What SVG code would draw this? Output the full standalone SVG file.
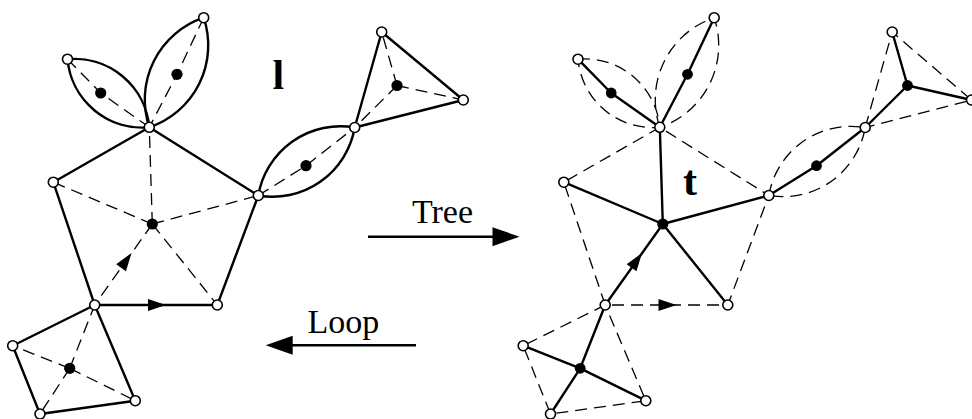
<svg xmlns="http://www.w3.org/2000/svg" xmlns:xlink="http://www.w3.org/1999/xlink" width="972" height="419" viewBox="0 0 972 419">
<style>
.map{stroke:#000;stroke-width:2.4;fill:none;stroke-linecap:round;stroke-linejoin:round}
.dual{stroke:#000;stroke-width:1.3;fill:none;stroke-dasharray:12 7}
.v{fill:#fff;stroke:#000;stroke-width:1.6}
.f{fill:#000;stroke:none}
.lbl{font-family:"Liberation Serif","Times New Roman",serif;font-size:34px;fill:#000}
.big{font-family:"Liberation Serif","Times New Roman",serif;font-size:42px;font-weight:bold;fill:#000}
.arr{stroke:#000;stroke-width:2.6;fill:none}
</style>
<defs>
<path id="ah" d="M0,0 L-18,-6 L-18,6 Z" fill="#000"/>
<path id="bigah" d="M0,0 L-27,-9.5 L-27,9.5 Z" fill="#000"/>
</defs>
<rect width="972" height="419" fill="#fff"/>

<!-- LEFT: map l -->
<g id="left-connectors">
<g id="left-map-edges">
<path class="map" d="M67.5,59.2 A75.2,75.2 0 0 1 149.3,127.3 A75.2,75.2 0 0 1 67.5,59.2 Z"/>
<path class="map" d="M149.3,127.3 A86.5,86.5 0 0 1 203.7,17.7 A86.5,86.5 0 0 1 149.3,127.3 Z"/>
<path class="map" d="M258.3,195.5 A83.4,83.4 0 0 1 354.7,127.5 A83.4,83.4 0 0 1 258.3,195.5 Z"/>
<polygon class="map" points="149.3,127.3 53.3,182.2 94.7,305 217.3,305 258.3,195.5"/>
<polygon class="map" points="94.7,305 12.7,345.7 40,414 135.3,400.7"/>
<polygon class="map" points="354.7,127.5 381.7,32 463.3,100"/>
</g>
<g id="left-dual-edges">
<polyline class="dual" points="67.5,59.2 100.7,93 149.3,127.3"/>
<polyline class="dual" points="203.7,17.7 177,74.3 149.3,127.3"/>
<line class="dual" x1="152.3" y1="224" x2="149.3" y2="127.3"/>
<line class="dual" x1="152.3" y1="224" x2="53.3" y2="182.2"/>
<line class="dual" x1="152.3" y1="224" x2="258.3" y2="195.5"/>
<line class="dual" x1="152.3" y1="224" x2="217.3" y2="305"/>
<line class="dual" x1="152.3" y1="224" x2="94.7" y2="305"/>
<line class="dual" x1="69.7" y1="368.3" x2="94.7" y2="305"/>
<line class="dual" x1="69.7" y1="368.3" x2="12.7" y2="345.7"/>
<line class="dual" x1="69.7" y1="368.3" x2="40" y2="414"/>
<line class="dual" x1="69.7" y1="368.3" x2="135.3" y2="400.7"/>
<polyline class="dual" points="258.3,195.5 306,165.7 354.7,127.5"/>
<line class="dual" x1="397" y1="85.5" x2="381.7" y2="32"/>
<line class="dual" x1="397" y1="85.5" x2="463.3" y2="100"/>
<line class="dual" x1="397" y1="85.5" x2="354.7" y2="127.5"/>
</g>
<use href="#ah" xlink:href="#ah" transform="translate(166,305)"/>
<use href="#ah" xlink:href="#ah" transform="translate(131.5,253) rotate(-54.6)"/>
</g>
<g id="left-nodes">
<g id="l-dotB"><circle class="f" cx="100.7" cy="93" r="5.6"/></g>
<g id="l-dotC"><circle class="f" cx="177" cy="74.3" r="5.6"/></g>
<g id="l-dotF"><circle class="f" cx="152.3" cy="224" r="5.6"/></g>
<g id="l-dotS"><circle class="f" cx="69.7" cy="368.3" r="5.6"/></g>
<g id="l-dotL"><circle class="f" cx="306" cy="165.7" r="5.6"/></g>
<g id="l-dotT"><circle class="f" cx="397" cy="85.5" r="5.6"/></g>
<g id="l-A"><circle class="v" cx="149.3" cy="127.3" r="5"/></g>
<g id="l-B"><circle class="v" cx="67.5" cy="59.2" r="5"/></g>
<g id="l-C"><circle class="v" cx="203.7" cy="17.7" r="5"/></g>
<g id="l-D"><circle class="v" cx="53.3" cy="182.2" r="5"/></g>
<g id="l-E"><circle class="v" cx="258.3" cy="195.5" r="5"/></g>
<g id="l-G"><circle class="v" cx="94.7" cy="305" r="5"/></g>
<g id="l-H"><circle class="v" cx="217.3" cy="305" r="5"/></g>
<g id="l-I"><circle class="v" cx="12.7" cy="345.7" r="5"/></g>
<g id="l-J"><circle class="v" cx="40" cy="414" r="5"/></g>
<g id="l-K"><circle class="v" cx="135.3" cy="400.7" r="5"/></g>
<g id="l-N"><circle class="v" cx="354.7" cy="127.5" r="5"/></g>
<g id="l-L"><circle class="v" cx="381.7" cy="32" r="5"/></g>
<g id="l-M"><circle class="v" cx="463.3" cy="100" r="5"/></g>
<g id="label-l"><text class="big" x="278.3" y="89" text-anchor="middle">l</text></g>
</g>

<!-- middle arrows -->
<g id="arrows">
<line class="arr" x1="368" y1="236.7" x2="496" y2="236.7"/>
<use href="#bigah" xlink:href="#bigah" transform="translate(519.5,236.7)"/>
<line class="arr" x1="290" y1="345.3" x2="416" y2="345.3"/>
<use href="#bigah" xlink:href="#bigah" transform="translate(265.7,345.3) rotate(180)"/>
</g>
<g id="label-tree"><text class="lbl" x="442.5" y="223.3" text-anchor="middle">Tree</text></g>
<g id="label-loop"><text class="lbl" x="343.3" y="333.3" text-anchor="middle">Loop</text></g>

<!-- RIGHT: tree t -->
<g id="right-connectors">
<g id="right-map-edges">
<path class="dual" d="M578,59.2 A75.2,75.2 0 0 1 659.8,127.3 A75.2,75.2 0 0 1 578,59.2 Z"/>
<path class="dual" d="M659.8,127.3 A86.5,86.5 0 0 1 714.2,17.7 A86.5,86.5 0 0 1 659.8,127.3 Z"/>
<path class="dual" d="M768.8,195.5 A83.4,83.4 0 0 1 865.2,127.5 A83.4,83.4 0 0 1 768.8,195.5 Z"/>
<polygon class="dual" points="659.8,127.3 563.8,182.2 605.2,305 727.8,305 768.8,195.5"/>
<polygon class="dual" points="605.2,305 523.2,345.7 550.5,414 645.8,400.7"/>
<polygon class="dual" points="865.2,127.5 892.2,32 971.5,100"/>
</g>
<g id="right-tree-edges">
<polyline class="map" points="578,59.2 611.2,93 659.8,127.3"/>
<polyline class="map" points="714.2,17.7 687.5,74.3 659.8,127.3"/>
<line class="map" x1="662.8" y1="224" x2="659.8" y2="127.3"/>
<line class="map" x1="662.8" y1="224" x2="563.8" y2="182.2"/>
<line class="map" x1="662.8" y1="224" x2="768.8" y2="195.5"/>
<line class="map" x1="662.8" y1="224" x2="727.8" y2="305"/>
<line class="map" x1="662.8" y1="224" x2="605.2" y2="305"/>
<line class="map" x1="580.2" y1="368.3" x2="605.2" y2="305"/>
<line class="map" x1="580.2" y1="368.3" x2="523.2" y2="345.7"/>
<line class="map" x1="580.2" y1="368.3" x2="550.5" y2="414"/>
<line class="map" x1="580.2" y1="368.3" x2="645.8" y2="400.7"/>
<polyline class="map" points="768.8,195.5 816.5,165.7 865.2,127.5"/>
<line class="map" x1="907.5" y1="85.5" x2="892.2" y2="32"/>
<line class="map" x1="907.5" y1="85.5" x2="971.5" y2="100"/>
<line class="map" x1="907.5" y1="85.5" x2="865.2" y2="127.5"/>
</g>
<use href="#ah" xlink:href="#ah" transform="translate(676.5,305)"/>
<use href="#ah" xlink:href="#ah" transform="translate(642,253) rotate(-54.6)"/>
</g>
<g id="right-nodes">
<g id="t-dotB"><circle class="f" cx="611.2" cy="93" r="5.4"/></g>
<g id="t-dotC"><circle class="f" cx="687.5" cy="74.3" r="5.4"/></g>
<g id="t-dotF"><circle class="f" cx="662.8" cy="224" r="5.6"/></g>
<g id="t-dotS"><circle class="f" cx="580.2" cy="368.3" r="5.4"/></g>
<g id="t-dotL"><circle class="f" cx="816.5" cy="165.7" r="5.4"/></g>
<g id="t-dotT"><circle class="f" cx="907.5" cy="85.5" r="5.4"/></g>
<g id="t-A"><circle class="v" cx="659.8" cy="127.3" r="5"/></g>
<g id="t-B"><circle class="v" cx="578" cy="59.2" r="5"/></g>
<g id="t-C"><circle class="v" cx="714.2" cy="17.7" r="5"/></g>
<g id="t-D"><circle class="v" cx="563.8" cy="182.2" r="5"/></g>
<g id="t-E"><circle class="v" cx="768.8" cy="195.5" r="5"/></g>
<g id="t-G"><circle class="v" cx="605.2" cy="305" r="5"/></g>
<g id="t-H"><circle class="v" cx="727.8" cy="305" r="5"/></g>
<g id="t-I"><circle class="v" cx="523.2" cy="345.7" r="5"/></g>
<g id="t-J"><circle class="v" cx="550.5" cy="414" r="5"/></g>
<g id="t-K"><circle class="v" cx="645.8" cy="400.7" r="5"/></g>
<g id="t-N"><circle class="v" cx="865.2" cy="127.5" r="5"/></g>
<g id="t-L"><circle class="v" cx="892.2" cy="32" r="5"/></g>
<g id="t-M"><circle class="v" cx="971.5" cy="100" r="5"/></g>
<g id="label-t"><text class="big" x="690" y="195" text-anchor="middle">t</text></g>
</g>
</svg>
